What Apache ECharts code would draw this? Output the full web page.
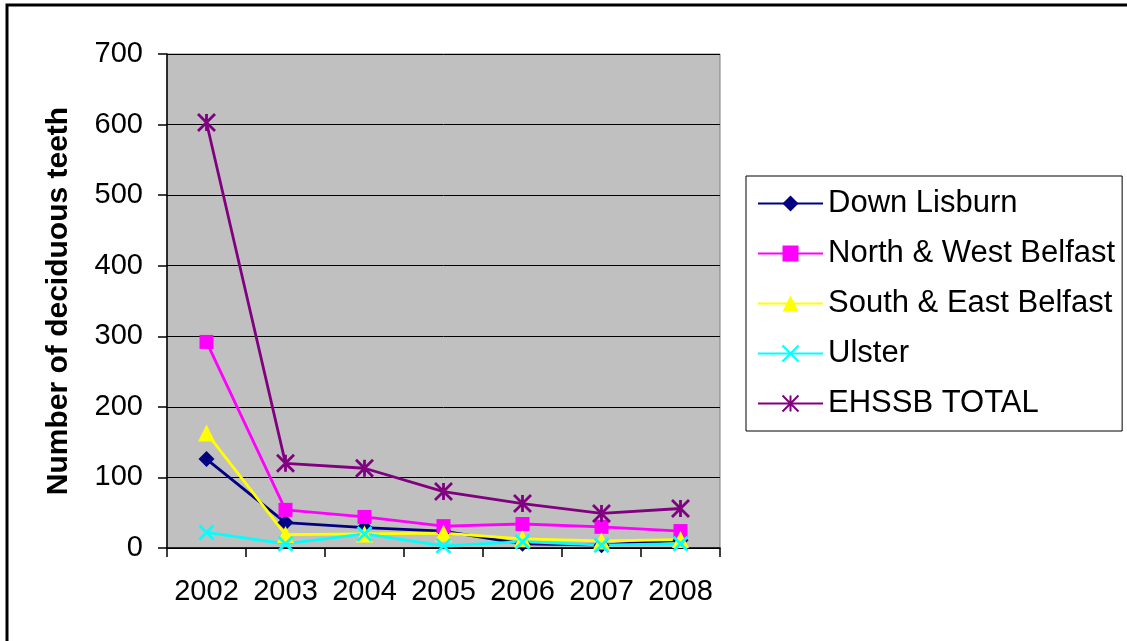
<!DOCTYPE html>
<html>
<head>
<meta charset="utf-8">
<title>Number of deciduous teeth</title>
<script src="https://cdn.jsdelivr.net/npm/echarts@6/dist/echarts.min.js"></script>
<style>
  html, body { margin: 0; padding: 0; background: #ffffff; }
  #chart { width: 1127px; height: 641px; }
</style>
</head>
<body>
<div id="chart"></div>
<script>
// Years on the category axis
const years = ['2002', '2003', '2004', '2005', '2006', '2007', '2008'];

// Counts per trust area
const downLisburn = [126, 36, 29, 24, 6, 4, 11];
const northWestBelfast = [292, 54, 44, 31, 34, 30, 24];
const southEastBelfast = [163, 19, 20, 21, 13, 10, 12];
const ulster = [22, 6, 20, 3, 9, 4, 6];
const ehssbTotal = [603, 120, 113, 80, 63, 49, 56];

// Value axis ticks
const yTicks = { min: 0, max: 700, step: 100 };

const FONT = '"Liberation Sans", Arial, sans-serif';

// Stroked marker shapes
const crossPath = 'path://M0,0L10,10M10,0L0,10';
const starPath = 'path://M0,0L10,10M10,0L0,10M5,0L5,10';

function lineSeries(name, data, color, symbol, size, stroked) {
  return {
    name: name,
    type: 'line',
    data: data,
    symbol: symbol,
    symbolSize: size,
    showAllSymbol: true,
    lineStyle: { color: color, width: 2.8 },
    itemStyle: stroked
      ? { color: 'rgba(0,0,0,0)', borderColor: color, borderWidth: 2.8 }
      : { color: color, borderWidth: 0 },
    emphasis: { disabled: true },
    animation: false
  };
}

const chart = echarts.init(document.getElementById('chart'), null, { renderer: 'canvas' });

chart.setOption({
  backgroundColor: '#ffffff',
  animation: false,
  textStyle: { fontFamily: FONT },
  graphic: [
    {
      type: 'rect',
      shape: { x: 7, y: 5, width: 1140, height: 660 },
      style: { fill: 'none', stroke: '#000000', lineWidth: 3 },
      silent: true
    }
  ],
  grid: {
    left: 167,
    top: 54,
    right: 407,
    bottom: 93,
    show: true,
    backgroundColor: '#c0c0c0',
    borderColor: '#808080',
    borderWidth: 1
  },
  legend: {
    orient: 'vertical',
    left: 746,
    top: 176,
    padding: [12, 7, 12, 11],
    itemWidth: 65,
    itemHeight: 20,
    itemGap: 19,
    borderColor: '#000000',
    borderWidth: 1,
    backgroundColor: '#ffffff',
    textStyle: { fontFamily: FONT, fontSize: 31, color: '#000000', lineHeight: 31, padding: [0, 0, 0, 0] },
    data: ['Down Lisburn', 'North & West Belfast', 'South & East Belfast', 'Ulster', 'EHSSB TOTAL']
  },
  xAxis: {
    type: 'category',
    data: years,
    boundaryGap: true,
    axisLine: { show: true, lineStyle: { color: '#000000', width: 1.5 } },
    axisTick: { show: true, inside: false, length: 9, alignWithLabel: false, interval: 0, lineStyle: { color: '#000000', width: 1.5 } },
    axisLabel: { fontFamily: FONT, fontSize: 29, color: '#000000', margin: 29, interval: 0, hideOverlap: false },
    splitLine: { show: false }
  },
  yAxis: {
    type: 'value',
    min: yTicks.min,
    max: yTicks.max,
    interval: yTicks.step,
    name: 'Number of deciduous teeth',
    nameLocation: 'middle',
    nameGap: 93,
    nameRotate: 90,
    nameTextStyle: { fontFamily: FONT, fontSize: 30, fontWeight: 'bold', color: '#000000' },
    axisLine: { show: true, lineStyle: { color: '#000000', width: 1.5 } },
    axisTick: { show: true, inside: false, length: 9, lineStyle: { color: '#000000', width: 1.5 } },
    axisLabel: { fontFamily: FONT, fontSize: 29, color: '#000000', margin: 24 },
    splitLine: { show: true, lineStyle: { color: '#000000', width: 1 } }
  },
  series: [
    lineSeries('Down Lisburn', downLisburn, '#000080', 'diamond', 16, false),
    lineSeries('North & West Belfast', northWestBelfast, '#ff00ff', 'rect', 14, false),
    lineSeries('South & East Belfast', southEastBelfast, '#ffff00', 'triangle', 17, false),
    lineSeries('Ulster', ulster, '#00ffff', crossPath, 14, true),
    lineSeries('EHSSB TOTAL', ehssbTotal, '#800080', starPath, 17, true)
  ]
});
</script>
</body>
</html>
